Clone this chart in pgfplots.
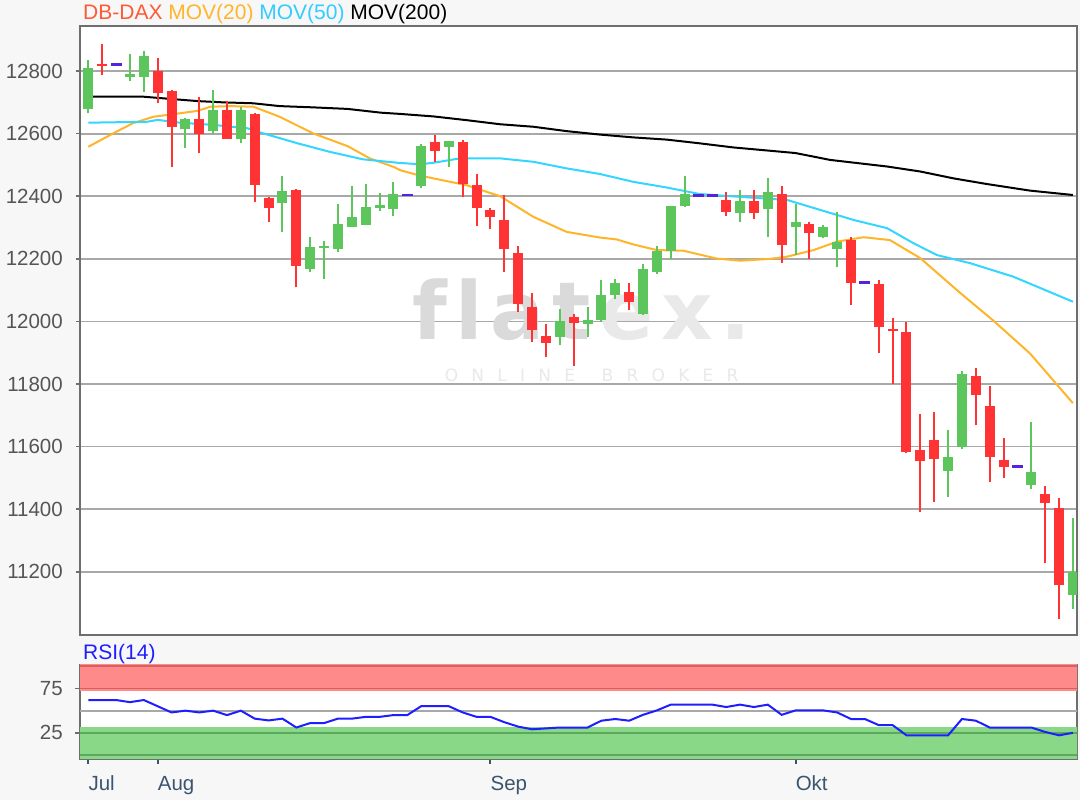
\documentclass[border=0pt]{standalone}
\usepackage{pgfplots}
\pgfplotsset{compat=1.18}
\usepackage{pgfplotstable}
\usepackage{fontspec}
\setmainfont{Liberation Sans}
\newfontfamily\wmfont{DejaVu Sans}
\usetikzlibrary{plotmarks}

\definecolor{bgc}{HTML}{F7F7F7}
\definecolor{cgreen}{HTML}{5CC65C}
\definecolor{cred}{HTML}{FF3333}
\definecolor{cdash}{HTML}{5522DD}
\definecolor{ma20}{HTML}{FFB52A}
\definecolor{ma50}{HTML}{33D6FF}
\definecolor{gridc}{HTML}{A8A8A8}
\definecolor{axc}{HTML}{6E6E6E}
\definecolor{tickc}{HTML}{555555}
\definecolor{monc}{HTML}{3B5570}
\definecolor{rsired}{HTML}{FF8A8A}
\definecolor{rsireddk}{HTML}{D95F5F}
\definecolor{rsigreen}{HTML}{88D888}
\definecolor{rsigreendk}{HTML}{5CA85C}
\definecolor{rsiline}{HTML}{1E1EFF}
\definecolor{titler}{HTML}{FF5A36}
\definecolor{title50}{HTML}{33CCFF}
\definecolor{wma}{HTML}{DADADA}
\definecolor{wmb}{HTML}{E9E9E9}

\pgfplotstableread{
x O H L C
0 12678 12835 12665 12809
3 12782 12853 12768 12789
4 12780 12865 12734 12848
7 12614 12650 12555 12647
9 12608 12739 12598 12675
11 12582 12686 12569 12675
14 12377 12465 12287 12418
16 12166 12271 12159 12239
17 12233 12258 12134 12242
18 12230 12375 12223 12311
19 12301 12433 12301 12335
20 12308 12439 12308 12367
21 12364 12411 12354 12372
22 12359 12444 12338 12406
24 12432 12566 12427 12561
26 12558 12577 12494 12577
34 11949 12041 11924 12002
36 11993 12047 11951 12003
37 12004 12132 11999 12086
38 12084 12137 12071 12123
40 12025 12183 12020 12169
41 12159 12241 12153 12225
42 12226 12368 12199 12368
43 12368 12464 12366 12406
47 12346 12420 12319 12386
49 12358 12457 12269 12413
51 12301 12375 12212 12317
53 12269 12308 12266 12303
54 12231 12349 12173 12255
62 11522 11653 11438 11568
63 11598 11840 11592 11832
68 11478 11678 11465 11518
71 11126 11371 11080 11199
}\greentab

\pgfplotstableread{
x O H L C
1 12824 12886 12787 12815
5 12801 12841 12697 12729
6 12737 12740 12492 12620
8 12647 12718 12537 12599
10 12675 12704 12582 12582
12 12662 12667 12383 12436
13 12395 12399 12319 12364
15 12420 12422 12109 12178
25 12572 12597 12510 12544
27 12572 12579 12398 12438
28 12435 12471 12304 12364
29 12356 12361 12294 12334
30 12324 12403 12159 12231
31 12220 12241 12031 12057
32 12047 12091 11935 11974
33 11953 11991 11885 11930
35 12015 12023 11857 11996
39 12093 12124 12038 12063
46 12387 12414 12337 12350
48 12386 12420 12326 12346
50 12406 12433 12186 12244
52 12310 12319 12199 12282
55 12260 12271 12051 12122
57 12119 12133 11898 11981
58 11977 12010 11800 11968
59 11965 11997 11579 11584
60 11589 11704 11392 11554
61 11621 11710 11424 11560
64 11826 11850 11669 11765
65 11730 11794 11488 11566
66 11557 11627 11501 11534
69 11448 11474 11227 11419
70 11403 11435 11048 11158
}\redtab

\pgfplotstableread{
x v
2 12821
23 12404
44 12403
45 12403
56 12124
67 11536
}\dashtab

\pgfplotstableread{
x v
0 62
1 62
2 62
3 59.6
4 62
5 55
6 48
7 50
8 48
9 50
10 45
11 50
12 41
13 39
14 41
15 31
16 36
17 36
18 41
19 41
20 43
21 43
22 45
23 45
24 55
25 55
26 55
27 48
28 43
29 43
30 37
31 32
32 29
33 30
34 31
35 31
36 31
37 38.7
38 40.6
39 38.7
40 45.3
41 50.3
42 56.8
43 56.8
44 56.8
45 56.8
46 54.1
47 56.8
48 54.1
49 56.8
50 45.3
51 50.3
52 50.3
53 50.3
54 48
55 40.6
56 40.6
57 33.7
58 33.7
59 22.2
60 22.2
61 22.2
62 22.2
63 40.6
64 38.7
65 31
66 31
67 31
68 31
69 26
70 22.2
71 25
}\rsitab

\def\fs{\fontsize{20.5bp}{24bp}\selectfont}
\def\sp{\hspace{0.78em}}
\def\wsp{\hspace{0.1em}}

\pgfplotsset{
  candle/.style 2 args={only marks, mark=*, mark size=0pt,
    mark options={draw opacity=0, fill opacity=0}, forget plot,
    error bars/.cd, y dir=plus, y explicit, error mark=none,
    error bar style={line width=#1, draw=#2, solid}},
}

\begin{document}
\begin{tikzpicture}
\path[use as bounding box, fill=bgc] (0,0) rectangle (1080bp,800bp);

\begin{axis}[
  at={(80bp,165bp)}, anchor=south west,
  width=997bp, height=609bp, scale only axis,
  xmin=-0.6, xmax=71.3, ymin=10998, ymax=12944,
  axis background/.style={fill=white},
  axis line style={draw=axc, line width=1.5bp},
  xtick=\empty,
  ytick={11200,11400,11600,11800,12000,12200,12400,12600,12800},
  scaled y ticks=false,
  ytick pos=left,
  ymajorgrids, major grid style={draw=gridc, line width=1.8bp},
  tick align=outside, major tick length=4bp,
  every tick/.style={draw=axc, line width=1.5bp},
  yticklabel style={font=\fs, text=tickc, inner sep=0pt, anchor=east, xshift=-13bp,
    /pgf/number format/1000 sep={}, /pgf/number format/fixed, /pgf/number format/precision=0,
    /pgf/number format/assume math mode=true},
]
\node[anchor=base, inner sep=0pt, font=\wmfont\bfseries\fontsize{80bp}{80bp}\selectfont] at (axis cs:35.6,11941)
  {\textcolor{wma}{f\wsp l\wsp a\wsp t}\wsp\textcolor{wmb}{e\wsp x\wsp.}};
\node[anchor=base, inner sep=0pt, text=wmb, font=\wmfont\fontsize{17bp}{17bp}\selectfont] at (axis cs:36.3,11808)
  {O\sp N\sp L\sp I\sp N\sp E\sp\sp B\sp R\sp O\sp K\sp E\sp R};

% moving averages
\addplot[black, line width=2bp, no marks] coordinates {
(0,12718) (4,12718) (5.9,12711) (7.9,12704) (9.7,12700) (11.9,12697) (13.8,12688) (16.2,12684) (18.7,12679) (21.1,12667) (22.5,12663) (24.9,12655) (27.3,12643) (29.7,12630) (32.1,12622) (34.5,12608) (36.9,12597) (39.3,12588) (41.7,12581) (44.1,12569) (46.5,12556) (51,12538) (53.5,12516) (57.6,12495) (60,12479) (62.4,12457) (64.8,12439) (67.9,12418) (71,12404)};
\addplot[ma20, line width=2bp, no marks] coordinates {
(0,12558) (1.8,12601) (3.2,12633) (4.7,12654) (6.1,12662) (7.9,12673) (8.8,12686) (10.2,12688) (11.9,12686) (13.8,12654) (16.2,12601) (18.7,12560) (20.3,12521) (22,12494) (22.5,12483) (23.9,12466) (24.9,12457) (27.3,12435) (29.7,12400) (32.1,12334) (34.5,12286) (36.9,12268) (38.1,12262) (39.3,12246) (41,12228) (42.9,12226) (45.3,12201) (47,12194) (49.2,12200) (50.4,12207) (52.3,12228) (54,12255) (55.9,12269) (57.8,12260) (60,12202) (62.9,12090) (65.2,12005) (67.9,11898) (71,11739)};
\addplot[ma50, line width=2bp, no marks] coordinates {
(0,12635) (4.25,12638) (5,12644) (6.6,12635) (9,12628) (11.5,12617) (12.6,12601) (15.1,12569) (17.4,12542) (19.8,12518) (22.3,12507) (23.9,12502) (24.9,12507) (26.8,12521) (29.7,12521) (32.1,12510) (34.5,12489) (36.9,12471) (39.3,12446) (41.7,12428) (44.1,12407) (47,12398) (50.4,12388) (52.8,12356) (55.2,12324) (57.6,12298) (59.5,12250) (61.2,12212) (63.6,12186) (66.7,12143) (71,12063)};

% wicks
\addplot[candle={2bp}{cgreen}]
  table[x=x, y=L, y error plus expr=\thisrow{H}-\thisrow{L}] {\greentab};
\addplot[candle={2bp}{cred}]
  table[x=x, y=L, y error plus expr=\thisrow{H}-\thisrow{L}] {\redtab};
% bodies
\addplot[candle={10bp}{cgreen}]
  table[x=x, y=O, y error plus expr=\thisrow{C}-\thisrow{O}] {\greentab};
\addplot[candle={10bp}{cred}]
  table[x=x, y=C, y error plus expr=\thisrow{O}-\thisrow{C}] {\redtab};
% flat days
\addplot[only marks, mark=-, mark size=5.5bp, mark options={draw=cdash, line width=2.5bp}]
  table[x=x, y=v] {\dashtab};
\end{axis}

\node[anchor=base west, inner sep=0pt, font=\fontsize{21bp}{24bp}\selectfont] at (83bp,780bp)
  {\textcolor{titler}{DB-DAX} \textcolor{ma20}{MOV(20)} \textcolor{title50}{MOV(50)} \textcolor{black}{MOV(200)}};
\node[anchor=base west, inner sep=0pt, text=rsiline, font=\fontsize{21bp}{24bp}\selectfont] at (83bp,140bp) {RSI(14)};

\begin{axis}[
  at={(80bp,41bp)}, anchor=south west,
  width=997bp, height=94bp, scale only axis,
  xmin=-0.6, xmax=71.3, ymin=-4.5, ymax=101.5,
  axis background/.style={fill=white},
  axis line style={draw=axc, line width=1.5bp},
  xtick={0,5,29,51}, xticklabels={Jul,Aug,Sep,Okt},
  ytick={25,75},
  xtick pos=bottom, ytick pos=left,
  tick align=outside, major tick length=5bp,
  xtick style={draw=monc, line width=2bp},
  ytick style={draw=axc, line width=1.5bp},
  xticklabel style={font=\fs, text=monc, inner sep=0pt, anchor=base west, yshift=-26bp},
  yticklabel style={font=\fs, text=tickc, inner sep=0pt, anchor=east, xshift=-12bp,
    /pgf/number format/assume math mode=true},
]
\addplot[fill=rsired, draw=none, forget plot] coordinates {(-1,72) (72,72) (72,105) (-1,105)} -- cycle;
\addplot[fill=rsigreen, draw=none, forget plot] coordinates {(-1,-10) (72,-10) (72,32) (-1,32)} -- cycle;
\addplot[rsireddk, line width=1.8bp, forget plot] coordinates {(-1,100) (72,100)};
\addplot[rsireddk, line width=1.8bp, forget plot] coordinates {(-1,75) (72,75)};
\addplot[rsigreendk, line width=1.8bp, forget plot] coordinates {(-1,25) (72,25)};
\addplot[rsigreendk, line width=1.8bp, forget plot] coordinates {(-1,0) (72,0)};
\addplot[gridc, line width=1.8bp, forget plot] coordinates {(-1,50) (72,50)};
\addplot[rsiline, line width=2bp, no marks] table[x=x, y=v] {\rsitab};
\end{axis}
\end{tikzpicture}
\end{document}
